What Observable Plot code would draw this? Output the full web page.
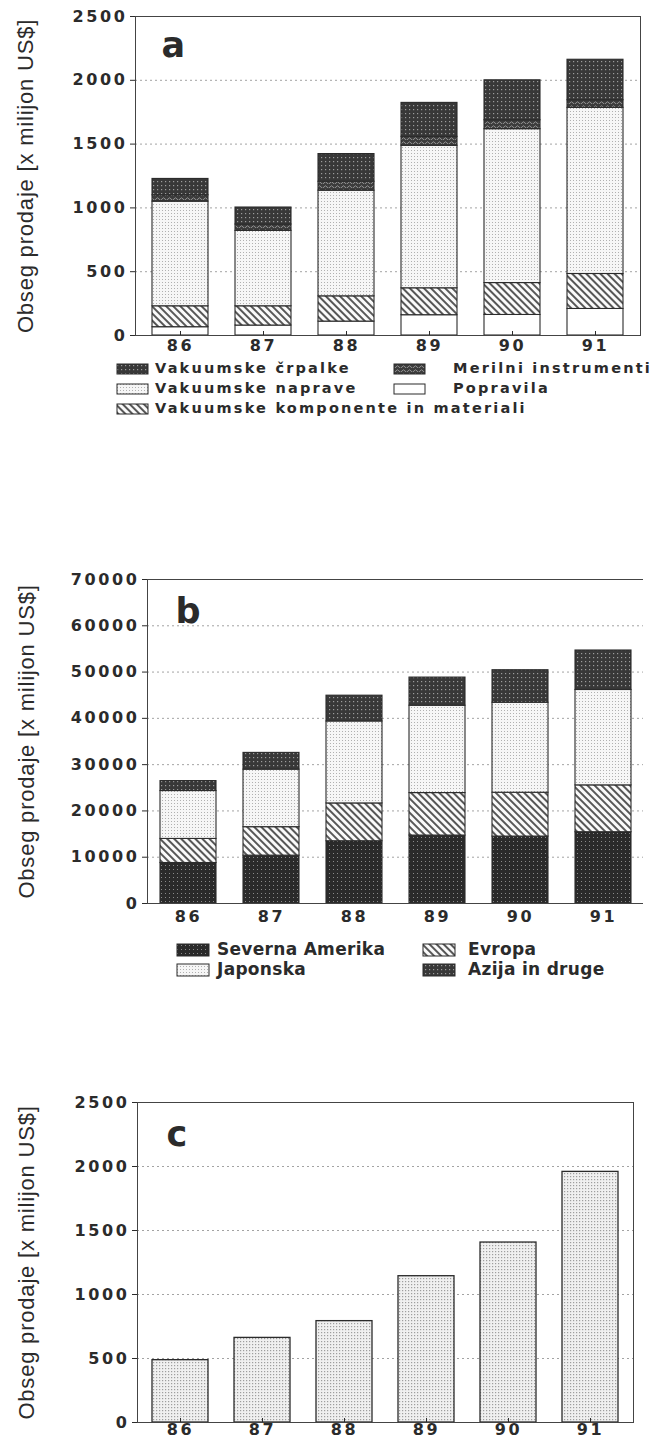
<!DOCTYPE html>
<html>
<head>
<meta charset="utf-8">
<script src="https://cdn.jsdelivr.net/npm/d3@7"></script>
<script src="https://cdn.jsdelivr.net/npm/@observablehq/plot@0.6"></script>
<style>
html, body { margin: 0; padding: 0; background: #fff; overflow: hidden; }
#page { position: relative; width: 651px; height: 1442px; overflow: hidden; color: #2b2b2b; background: #fff; }
.chart { position: absolute; left: 0; }
.chart svg { overflow: visible; display: block; }
.chart g[aria-label="y-axis tick label"] text,
.chart g[aria-label="x-axis tick label"] text {
  font-family: "DejaVu Sans"; font-weight: bold; font-size: 16px; letter-spacing: 2.6px;
}
.chart g[aria-label="y-axis label"] text {
  font-family: "Liberation Sans"; font-weight: normal; font-size: 22px; letter-spacing: 0.8px;
}
.legend { position: absolute; left: 0; top: 0; }
</style>
</head>
<body>
<svg width="0" height="0" style="position:absolute">
  <defs>
    <pattern id="pDark" width="4" height="4" patternUnits="userSpaceOnUse">
      <rect width="4" height="4" fill="#383838"/>
      <rect x="1" y="1" width="1.2" height="1.2" fill="#9c9c9c"/>
    </pattern>
    <pattern id="pDarker" width="4" height="4" patternUnits="userSpaceOnUse">
      <rect width="4" height="4" fill="#2a2a2a"/>
      <rect x="1" y="1" width="1" height="1" fill="#8a8a8a"/>
    </pattern>
    <pattern id="pWavy" width="6" height="4" patternUnits="userSpaceOnUse">
      <rect width="6" height="4" fill="#3c3c3c"/>
      <path d="M0,3 Q1.5,0.5 3,3 T6,3" stroke="#9a9a9a" fill="none" stroke-width="0.9"/>
    </pattern>
    <pattern id="pLight" width="3" height="3" patternUnits="userSpaceOnUse">
      <rect width="3" height="3" fill="#f6f6f6"/>
      <rect width="1" height="1" fill="#b0b0b0"/>
    </pattern>
    <pattern id="pLightC" width="3" height="3" patternUnits="userSpaceOnUse">
      <rect width="3" height="3" fill="#f0f0f0"/>
      <rect width="1.2" height="1.2" fill="#9e9e9e"/>
    </pattern>
    <pattern id="pHatch" width="5" height="5" patternUnits="userSpaceOnUse" patternTransform="rotate(-45)">
      <rect width="5" height="5" fill="#fafafa"/>
      <line x1="1" y1="0" x2="1" y2="5" stroke="#3a3a3a" stroke-width="1.7"/>
    </pattern>
  </defs>
</svg>
<div id="page"></div>
<script>
// ---------- data ----------
const years = ["86", "87", "88", "89", "90", "91"];

// chart a (stack order bottom → top)
const seriesA = ["Popravila", "Vakuumske komponente in materiali", "Vakuumske naprave", "Merilni instrumenti", "Vakuumske črpalke"];
const popravila  = [65, 78, 109, 159, 161, 208];
const komponente = [164, 151, 198, 211, 250, 274];
const naprave    = [820, 591, 828, 1117, 1206, 1302];
const merilni    = [50, 50, 70, 70, 70, 60];
const crpalke    = [128, 133, 217, 266, 313, 317];
const ticksA = [0, 500, 1000, 1500, 2000, 2500];

// chart b (stack order bottom → top)
const seriesB = ["Severna Amerika", "Evropa", "Japonska", "Azija in druge"];
const severnaAmerika = [8750, 10340, 13450, 14680, 14460, 15400];
const evropa         = [5200, 6150, 8170, 9180, 9470, 10120];
const japonska       = [10350, 12430, 17710, 18870, 19450, 20610];
const azija          = [2150, 3620, 5570, 6080, 7020, 8530];
const ticksB = [0, 10000, 20000, 30000, 40000, 50000, 60000, 70000];

// chart c
const valuesC = [487, 661, 792, 1143, 1406, 1958];
const ticksC = [0, 500, 1000, 1500, 2000, 2500];

const yLabel = "Obseg prodaje [x milijon US$]";

// ---------- tables ----------
const valuesA = [popravila, komponente, naprave, merilni, crpalke];
const tableA = seriesA.flatMap((s, i) => years.map((y, j) => ({year: y, series: s, value: valuesA[i][j]})));
const valuesB = [severnaAmerika, evropa, japonska, azija];
const tableB = seriesB.flatMap((s, i) => years.map((y, j) => ({year: y, series: s, value: valuesB[i][j]})));
const tableC = years.map((y, j) => ({year: y, value: valuesC[j]}));

const fillA = {
  "Popravila": "#ffffff",
  "Vakuumske komponente in materiali": "url(#pHatch)",
  "Vakuumske naprave": "url(#pLight)",
  "Merilni instrumenti": "url(#pWavy)",
  "Vakuumske črpalke": "url(#pDark)"
};
const fillB = {
  "Severna Amerika": "url(#pDarker)",
  "Evropa": "url(#pHatch)",
  "Japonska": "url(#pLight)",
  "Azija in druge": "url(#pDark)"
};

const ink = "#2b2b2b";
const gridStyle = {stroke: "#8c8c8c", strokeDasharray: "2,3", strokeOpacity: 0.8};
const letterStyle = {fontSize: 35, fontWeight: "bold", fontFamily: "DejaVu Sans", fill: ink};
const fmt = d => String(d);

const page = document.getElementById("page");
function place(node, top) {
  const d = document.createElement("div");
  d.className = "chart";
  d.style.top = top + "px";
  d.appendChild(node);
  page.appendChild(d);
}

// ---------- chart a ----------
const chartA = Plot.plot({
  width: 651, height: 362,
  marginLeft: 135, marginRight: 11, marginTop: 16, marginBottom: 27,
  style: {color: ink, background: "transparent"},
  x: {domain: years, paddingInner: 0.32, paddingOuter: 0.17, label: null},
  y: {domain: [0, 2500], label: null},
  color: {domain: seriesA, range: seriesA.map(s => fillA[s])},
  marks: [
    Plot.ruleY(ticksA.slice(1, -1), gridStyle),
    Plot.barY(tableA, {x: "year", y: "value", fill: "series", order: seriesA, stroke: ink, strokeWidth: 1.1}),
    Plot.frame({stroke: "#444"}),
    Plot.axisY(ticksA, {tickSize: 5, tickPadding: 3, tickFormat: fmt, label: yLabel, labelAnchor: "center", labelOffset: 118, labelArrow: false}),
    Plot.axisX({tickSize: -4, tickPadding: 8, label: null}),
    Plot.text(["a"], {text: d => d, frameAnchor: "top-left", dx: 26, dy: 16, ...letterStyle})
  ]
});
place(chartA, 0);

// ---------- chart b ----------
const chartB = Plot.plot({
  width: 651, height: 370,
  marginLeft: 147, marginRight: 8, marginTop: 19, marginBottom: 27,
  style: {color: ink, background: "transparent"},
  x: {domain: years, paddingInner: 0.33, paddingOuter: 0.14, label: null},
  y: {domain: [0, 70000], label: null},
  color: {domain: seriesB, range: seriesB.map(s => fillB[s])},
  marks: [
    Plot.ruleY(ticksB.slice(1, -1), gridStyle),
    Plot.barY(tableB, {x: "year", y: "value", fill: "series", order: seriesB, stroke: ink, strokeWidth: 1.1}),
    Plot.ruleY([0, 70000], {stroke: "#444"}),
    Plot.frame({anchor: "left", stroke: "#444"}),
    Plot.axisY(ticksB, {tickSize: 5, tickPadding: 3, tickFormat: fmt, label: yLabel, labelAnchor: "center", labelOffset: 129, labelArrow: false}),
    Plot.axisX({tickSize: 0, tickPadding: 7, label: null}),
    Plot.text(["b"], {text: d => d, frameAnchor: "top-left", dx: 28, dy: 19, ...letterStyle})
  ]
});
place(chartB, 560);

// ---------- chart c ----------
const chartC = Plot.plot({
  width: 651, height: 362,
  marginLeft: 137, marginRight: 18, marginTop: 22, marginBottom: 20,
  style: {color: ink, background: "transparent"},
  x: {domain: years, paddingInner: 0.32, paddingOuter: 0.16, label: null},
  y: {domain: [0, 2500], label: null},
  marks: [
    Plot.ruleY(ticksC.slice(1, -1), gridStyle),
    Plot.barY(tableC, {x: "year", y: "value", fill: "url(#pLightC)", stroke: ink, strokeWidth: 1.3}),
    Plot.frame({stroke: "#444"}),
    Plot.axisY(ticksC, {tickSize: 5, tickPadding: 3, tickFormat: fmt, label: yLabel, labelAnchor: "center", labelOffset: 119, labelArrow: false}),
    Plot.axisX({tickSize: -4, tickPadding: 5, label: null}),
    Plot.text(["c"], {text: d => d, frameAnchor: "top-left", dx: 29, dy: 19, ...letterStyle})
  ]
});
place(chartC, 1080);

// ---------- legends ----------
const legendA = [
  {name: "Vakuumske črpalke", col: 0, row: 0},
  {name: "Vakuumske naprave", col: 0, row: 1},
  {name: "Vakuumske komponente in materiali", col: 0, row: 2},
  {name: "Merilni instrumenti", col: 1, row: 0},
  {name: "Popravila", col: 1, row: 1}
];
const legendB = [
  {name: "Severna Amerika", col: 0, row: 0},
  {name: "Japonska", col: 0, row: 1},
  {name: "Evropa", col: 1, row: 0},
  {name: "Azija in druge", col: 1, row: 1}
];
function legend(items, fills, cfg) {
  const parts = items.map(it => {
    const base = cfg.rows[it.row];
    const sx = cfg.swatchX[it.col], tx = cfg.textX[it.col];
    return `<rect x="${sx}" y="${base - cfg.sh + 1}" width="${cfg.sw}" height="${cfg.sh}" fill="${fills[it.name]}" stroke="${ink}" stroke-width="1"/>` +
      `<text x="${tx}" y="${base}" fill="${ink}" font-family="DejaVu Sans" font-weight="bold" font-size="${cfg.fs}" letter-spacing="${cfg.ls}">${it.name}</text>`;
  }).join("");
  const d = document.createElement("div");
  d.className = "legend";
  d.innerHTML = `<svg width="651" height="1442" style="position:absolute;left:0;top:0">${parts}</svg>`;
  page.appendChild(d);
}
legend(legendA, fillA, {rows: [373, 393, 413], swatchX: [117, 394], textX: [155, 453], sw: 31, sh: 10, fs: 14.5, ls: 2.2});
legend(legendB, fillB, {rows: [955, 975], swatchX: [177, 423], textX: [217, 468], sw: 32, sh: 12, fs: 17, ls: 0.3});
</script>
</body>
</html>
